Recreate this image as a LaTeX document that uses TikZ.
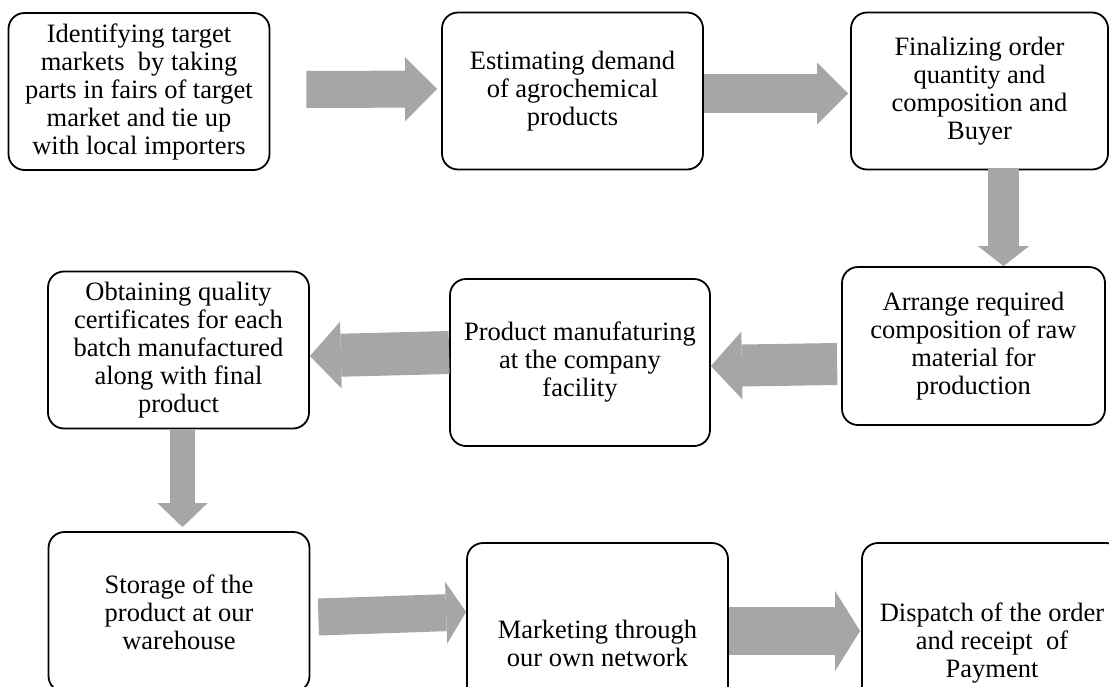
\documentclass[tikz,border=0pt]{standalone}
\usepackage{fontspec}
\setmainfont{Liberation Serif}
\usetikzlibrary{arrows.meta}
\definecolor{arrowgray}{RGB}{166,166,166}
\tikzset{
  box/.style={draw, line width=1.8pt, rounded corners=16pt, align=center,
    inner sep=0pt, minimum width=261pt, minimum height=157pt,
    font=\fontsize{26.5}{28}\selectfont},
  flow/.style n args={3}{draw=arrowgray, line width=#1,
    -{Triangle[length=#2,width=#3,line width=0pt]}}
}
\begin{document}
\begin{tikzpicture}[x=1pt,y=-1pt]
  \useasboundingbox (0,0) rectangle (1109,686);

  % Top row
  \node[box] (find) at (139,91.5) {Identifying target\\markets\ \ by taking\\parts in fairs of target\\market and tie up\\with local importers};
  \node[box] (demand) at (572.5,91) {Estimating demand\\of agrochemical\\products};
  \node[box, minimum width=257pt] (order) at (979.5,91) {Finalizing order\\quantity and\\composition and\\Buyer};

  % Middle row
  \node[box, minimum width=263pt, minimum height=158pt] (raw) at (973.5,346) {Arrange required\\composition of raw\\material for\\production};
  \node[box, minimum width=260pt, minimum height=167pt] (make) at (580,362.5) {Product manufaturing\\at the company\\facility};
  \node[box] (cert) at (178.5,350) {Obtaining quality\\certificates for each\\batch manufactured\\along with final\\product};

  % Bottom row
  \node[box, minimum height=160pt] (store) at (179,612) {Storage of the\\product at our\\warehouse};
  \node[box, minimum height=200pt] (market) at (597.5,643) {Marketing through\\our own network};
  \node[box, minimum width=260pt, minimum height=200pt] (dispatch) at (992,643) {Dispatch of the order\\and receipt\ \ of\\Payment};

  % Block arrows
  \draw[flow={37pt}{32pt}{64pt}] ([xshift=36pt,yshift=2pt]find.east) -- ([xshift=-4pt,yshift=2pt]demand.west);
  \draw[flow={39pt}{31pt}{62pt}] ([yshift=-2.5pt]demand.east) -- ([xshift=-2pt,yshift=-2.5pt]order.west);
  \draw[flow={31pt}{20pt}{51pt}] ([xshift=24pt,yshift=2pt]order.south) -- ([xshift=30pt]raw.north);
  \draw[flow={42pt}{31pt}{68pt}] ([xshift=-4pt,yshift=-18pt]raw.west) -- ([yshift=-3.5pt]make.east);
  \draw[flow={43pt}{31pt}{67pt}] ([yshift=10pt]make.west) -- ([yshift=-6pt]cert.east);
  \draw[flow={25pt}{24pt}{50pt}] ([xshift=4pt]cert.south) -- ([xshift=3.5pt,yshift=4pt]store.north);
  \draw[flow={37pt}{20pt}{62pt}] ([xshift=8pt,yshift=-5pt]store.east) -- ([yshift=31pt]market.west);
  \draw[flow={48pt}{25pt}{80pt}] ([yshift=12pt]market.east) -- ([xshift=-1pt,yshift=12pt]dispatch.west);
\end{tikzpicture}
\end{document}
